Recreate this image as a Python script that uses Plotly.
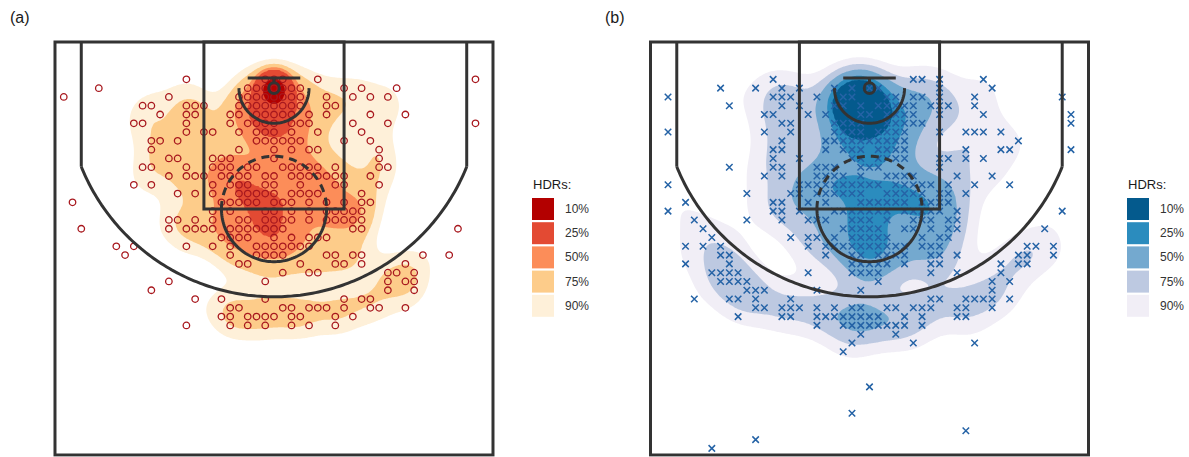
import numpy as np
import plotly.graph_objects as go

# ---------------- data (feet, origin at the hoop, y grows toward half court) ----------------
# Panel (a): made shots (open circles); one list of x-positions per row
a_rows = [-1, 0, 1, 2, 3, 4, 5, 6, 7, 8, 9, 10, 11, 12, 13, 14, 15, 16, 17, 18, 19, 20,
          21, 22, 23, 24, 25, 26, 27]
a_cols = [
    [-10, -1, 0, 1, 5, 23],
    [-20, -3, -2, -1, 0, 1, 2, 3, 8, 10, 14],
    [-24, -12, -4, -3, -2, -1, 0, 1, 2, 3, 6, 9, 11, 13],
    [-15, -14, -10, -9, -8, -4, -3, -2, -1, 0, 1, 2, 3, 6, 7],
    [-13, -10, -9, -5, -4, -2, -1, 0, 1, 2, 4, 6, 11, 15],
    [-16, -15, -10, -5, -3, -2, -1, 0, 2, 3, 4, 9, 13, 23],
    [-10, -8, -7, -4, -2, -1, 0, 2, 5, 10],
    [-14, -13, -11, -2, -1, 0, 1, 2, 3, 8, 11],
    [-14, -4, 0, 2, 4, 5, 12],
    [-12, -11, -7, -6, -5, 0, 12],
    [-15, -14, -10, -7, -6, -5, -3, -2, 1, 2, 3, 4, 5, 7, 12, 13],
    [-12, -10, -9, -8, -6, -5, -4, -3, -1, 0, 2, 3, 4, 5, 6, 7, 8, 11],
    [-16, -14, -7, -5, -4, -3, -1, 0, 3, 7, 8, 12],
    [-11, -9, -7, -4, -3, -2, -1, 0, 2, 3, 4, 5, 10],
    [-23, -6, -5, -4, -3, -2, 0, 1, 2, 4, 6, 8, 10, 11],
    [-7, -5, -1, 0, 2, 4, 6, 7, 8, 9, 10],
    [-12, -11, -9, -7, -4, -3, -1, 0, 1, 2, 4, 6, 7, 8, 9, 10],
    [-22, -12, -10, -9, -8, -7, -5, -4, -3, -2, -1, 0, 1, 9, 10, 21],
    [-6, -5, -4, -3, 0, 2, 4, 5, 6],
    [-18, -16, -10, -7, -5, -2, -1, 0, 1, 2, 3, 4],
    [-17, -5, -2, -1, 0, 1, 6, 7, 9, 10, 17, 20],
    [-4, -3, 3, 7, 8, 10, 15],
    [1, 4, 5, 13, 14, 16],
    [-12, -1, 13, 15, 16],
    [-14, 13, 16],
    [-9, -6, -1, 8, 10, 11],
    [-5, -4, 1, 2, 4, 5, 6, 8, 11, 12, 15],
    [-6, -5, -3, -2, -1, 0, 2, 3, 7, 9],
    [-10, -5, -3, -1, 2, 4, 7],
]
# repeated shots stacked right at the rim (hidden under one marker)
a_stack_x = [0, 0]
a_stack_y = [0, 1]
a_stack_n = [34, 18]
a_stack_spread = 0.9  # ft

# Panel (b): missed shots (crosses)
b_rows = [-1, 0, 1, 2, 3, 4, 5, 6, 7, 8, 9, 10, 11, 12, 13, 14, 15, 16, 17, 18, 19, 20,
          21, 22, 23, 24, 25, 26, 27, 28, 29, 30, 34, 37, 39, 40, 41]
b_cols = [
    [-11, 5, 6, 8, 13],
    [-17, -13, -10, -8, -4, -2, 0, 1, 8, 14],
    [-23, -11, -10, -9, -6, -3, -2, 2, 3, 5, 6, 8, 12, 22],
    [-16, -10, -8, -4, -3, -1, 1, 2, 3, 4, 5, 7, 8, 9, 12],
    [-12, -11, -7, -5, -1, 0, 2, 3, 4, 5, 8, 13, 23],
    [-10, -9, -4, -3, -2, -1, 2, 3, 4, 5, 6, 23],
    [-23, -12, -9, -4, -3, -2, -1, 1, 2, 3, 4, 8, 11, 12, 13, 15],
    [-10, -5, -4, -3, -2, -1, 0, 1, 2, 3, 4, 17],
    [-11, -10, -5, -3, -2, -1, 1, 2, 3, 4, 11, 15, 16, 23],
    [-11, -8, -2, -1, 1, 2, 3, 4, 8, 9, 11, 13],
    [-16, -11, -10, -6, -5, -4, -1, 0, 1, 8],
    [-12, -10, -6, -5, -4, -3, -1, 2, 3, 4, 5, 10, 14],
    [-23, -8, -7, -6, -5, -4, -3, -2, -1, 0, 1, 3, 4, 5, 6, 7, 9, 12, 16],
    [-14, -9, -8, -6, -5, -4, -3, -2, -1, 2, 3, 4, 5, 6, 8, 9, 11],
    [-21, -11, -10, -7, -5, -1, 0, 1, 2, 3, 4, 6, 7, 8, 9],
    [-23, -11, -10, -8, -4, -3, -2, -1, 0, 1, 2, 4, 5, 6, 7, 8, 10, 22],
    [-20, -14, -10, -7, -6, -5, -2, -1, 0, 2, 5, 6, 7, 9, 10],
    [-19, -3, -2, -1, 0, 1, 4, 5, 7, 9, 10, 20],
    [-18, -9, -7, -6, -4, -2, -1, 0, 1, 2, 6, 8, 9],
    [-21, -19, -17, -7, -5, -4, -3, -2, -1, 0, 1, 2, 3, 4, 6, 7, 8, 18, 19, 21],
    [-17, -16, -5, -2, -1, 1, 2, 3, 4, 7, 8, 10, 17, 18, 21],
    [-21, -16, -2, -1, 0, 1, 2, 4, 7, 8, 15, 17, 18],
    [-18, -17, -16, -15, -7, -2, -1, 0, 1, 7, 10, 15],
    [-17, -16, -15, -14, 1, 14, 16],
    [-14, -13, -12, -6, -1, 14],
    [-20, -16, -15, -13, -9, 7, 8, 11, 12, 13, 14, 16],
    [-13, -12, -10, -9, -8, -6, -4, -2, -1, 2, 3, 5, 6, 7, 10, 11, 14],
    [-15, -10, -9, -6, -5, -4, -3, -2, -1, 0, 1, 4, 6, 10, 11],
    [-6, -3, -2, -1, 0, 1, 2, 3, 4, 6],
    [-1, 3],
    [-2, 5, 12],
    [-3],
    [0],
    [-2],
    [11],
    [-13],
    [-18],
]
b_stack_x = [-2, -1, 0, -2, -1, -1, -2]
b_stack_y = [1, 1, 1, 2, 2, 0, 3]
b_stack_n = [6, 8, 3, 5, 6, 4, 3]
b_stack_spread = None  # same smoothing as the other shots

hdr_labels = ["10%", "25%", "50%", "75%", "90%"]
hdr_probs = [0.10, 0.25, 0.50, 0.75, 0.90]
a_colors = ["#B30000", "#E34A33", "#FC8D59", "#FDCC8A", "#FEF0D9"]
b_colors = ["#045A8D", "#2B8CBE", "#74A9CF", "#BDC9E1", "#F1EEF6"]

W, H = 1189, 457
LINE = "#333333"
BW_X, BW_Y = 0.9, 0.72


def flatten(rows, cols):
    xs, ys = [], []
    for r, cs in zip(rows, cols):
        for c in cs:
            xs.append(c)
            ys.append(r)
    return np.array(xs, float), np.array(ys, float)


def hdr_field(px, py, sx, sy, sn, spread, gx, gy):
    allx = np.concatenate([px, np.repeat(sx, sn)])
    ally = np.concatenate([py, np.repeat(sy, sn)])
    n = len(allx)

    def bw(v):
        q1, q3 = np.percentile(v, [25, 75])
        return 1.06 * min(v.std(ddof=1), (q3 - q1) / 1.34) * n ** (-0.2)

    hx, hy = bw(allx) * BW_X, bw(ally) * BW_Y

    def kde(x, y, w, sxx, syy):
        kx = np.exp(-0.5 * ((gx[:, None] - np.asarray(x, float)[None, :]) / sxx) ** 2)
        ky = np.exp(-0.5 * ((gy[:, None] - np.asarray(y, float)[None, :]) / syy) ** 2)
        return (ky * np.asarray(w, float)[None, :]) @ kx.T / (sxx * syy)

    dens = kde(px, py, np.ones(len(px)), hx, hy)
    if spread is None:
        dens = dens + kde(sx, sy, sn, hx, hy)
    else:
        dens = dens + kde(sx, sy, sn, spread, spread)
    ds = np.sort(dens.ravel())[::-1]
    cum = np.cumsum(ds) / ds.sum()
    thr = [ds[min(np.searchsorted(cum, p), len(ds) - 1)] for p in hdr_probs]
    xp = [0.0] + thr[::-1] + [dens.max() * 1.0001 + 1e-12]
    return np.interp(dens, xp, [0, 1, 2, 3, 4, 5, 6])


def colorscale(cols):
    tr = "rgba(255,255,255,0)"
    seq = [tr] + cols[::-1]  # below 90%, 90, 75, 50, 25, 10
    cs = []
    edges = [0, 0.1, 0.3, 0.5, 0.7, 0.9, 1.0]
    for i, c in enumerate(seq):
        cs.append([edges[i], c])
        cs.append([edges[i + 1], c])
    return cs


def arc(cx, cy, r, t0, t1, n=80):
    t = np.linspace(t0, t1, n)
    xs = cx + r * np.cos(t)
    ys = cy + r * np.sin(t)
    return "M " + " L ".join(f"{x:.3f},{y:.3f}" for x, y in zip(xs, ys))


def court_shapes(xr, yr):
    base, half = -5.25, 41.75
    ln = dict(color=LINE, width=3)
    s = []
    s.append(dict(type="rect", x0=-25, x1=25, y0=base, y1=half, line=ln))
    s.append(dict(type="rect", x0=-8, x1=8, y0=base, y1=13.75, line=ln))
    cy = np.sqrt(23.75 ** 2 - 22 ** 2)
    s.append(dict(type="line", x0=-22, x1=-22, y0=base, y1=cy, line=ln))
    s.append(dict(type="line", x0=22, x1=22, y0=base, y1=cy, line=ln))
    a0 = np.arctan2(cy, 22)
    s.append(dict(type="path", path=arc(0, 0, 23.75, a0, np.pi - a0, 160), line=ln))
    s.append(dict(type="path", path=arc(0, 13.75, 6, 0, np.pi), line=ln))
    s.append(dict(type="path", path=arc(0, 13.75, 6, np.pi, 2 * np.pi),
                  line=dict(color=LINE, width=3, dash="8px,6px")))
    s.append(dict(type="path", path=arc(0, 0, 4, 0, np.pi), line=ln))
    s.append(dict(type="line", x0=-3, x1=3, y0=-1.15, y1=-1.15, line=ln))
    s.append(dict(type="line", x0=0, x1=0, y0=-1.15, y1=-0.6, line=ln))
    s.append(dict(type="circle", x0=-0.6, x1=0.6, y0=-0.6, y1=0.6, line=ln))
    for d in s:
        d["xref"] = xr
        d["yref"] = yr
        d["layer"] = "above"
    return s


gx = np.linspace(-25, 25, 251)
gy = np.linspace(-5.25, 41.75, 236)

ax_, ay_ = flatten(a_rows, a_cols)
bx_, by_ = flatten(b_rows, b_cols)

fig = go.Figure()
for xs, ys, st, cols, xa, ya, sym, mcol in [
    (ax_, ay_, (a_stack_x, a_stack_y, a_stack_n, a_stack_spread), a_colors,
     "x", "y", "circle-open", "#A8181E"),
    (bx_, by_, (b_stack_x, b_stack_y, b_stack_n, b_stack_spread), b_colors,
     "x2", "y2", "x-thin-open", "#2563A6"),
]:
    z = hdr_field(xs, ys, *st, gx, gy)
    fig.add_trace(go.Contour(
        x=gx, y=gy, z=z, autocontour=False,
        contours=dict(start=1, end=5, size=1, coloring="fill", showlines=False),
        colorscale=colorscale(cols), showscale=False, line=dict(width=0),
        hoverinfo="skip", xaxis=xa, yaxis=ya))
    fig.add_trace(go.Scatter(
        x=xs, y=ys, mode="markers", xaxis=xa, yaxis=ya, hoverinfo="skip",
        marker=dict(symbol=sym, size=6.5,
                    color=mcol, line=dict(width=1.3 if sym == "circle-open" else 1.5, color=mcol)),
        showlegend=False))

scale_x = 438 / 50.0
scale_y = 413 / 47.0
pad_x, pad_top, pad_bot = 0.4, 0.4, 0.2


def dom_x(left_px):
    l = left_px - pad_x * scale_x
    r = left_px + 438 + pad_x * scale_x
    return [l / W, r / W]


top_px = 42 - pad_top * scale_y
bot_px = 455 + pad_bot * scale_y
dom_y = [max(0, (H - bot_px) / H), (H - top_px) / H]

axcommon = dict(visible=False, showgrid=False, zeroline=False, fixedrange=True)
fig.update_layout(
    width=W, height=H, margin=dict(l=0, r=0, t=0, b=0),
    paper_bgcolor="white", plot_bgcolor="white", showlegend=False,
    xaxis=dict(domain=dom_x(55), range=[-25 - pad_x, 25 + pad_x], **axcommon),
    yaxis=dict(domain=dom_y, range=[41.75 + pad_bot, -5.25 - pad_top], **axcommon),
    xaxis2=dict(domain=dom_x(650.5), range=[-25 - pad_x, 25 + pad_x], anchor="y2", **axcommon),
    yaxis2=dict(domain=dom_y, range=[41.75 + pad_bot, -5.25 - pad_top], anchor="x2", **axcommon),
)

shapes = court_shapes("x", "y") + court_shapes("x2", "y2")
ann = []
font = "Liberation Sans, Arial, Helvetica, sans-serif"
for lab, xpx in [("(a)", 8), ("(b)", 603)]:
    ann.append(dict(text=lab, x=xpx / W, y=1 - 18 / H, xref="paper", yref="paper",
                    xanchor="left", yanchor="middle", showarrow=False,
                    font=dict(family=font, size=16, color="#1a1a1a")))

for off, cols in [(0, a_colors), (595, b_colors)]:
    ann.append(dict(text="HDRs:", x=(531 + off) / W, y=1 - 184 / H, xref="paper", yref="paper",
                    xanchor="left", yanchor="middle", showarrow=False,
                    font=dict(family=font, size=13, color="#1a1a1a")))
    for i, (lab, c) in enumerate(zip(hdr_labels, cols)):
        y0 = 198 + 24.2 * i
        shapes.append(dict(type="rect", xref="paper", yref="paper",
                           x0=(532 + off) / W, x1=(554 + off) / W,
                           y0=1 - y0 / H, y1=1 - (y0 + 22) / H,
                           fillcolor=c, line=dict(width=0), layer="above"))
        ann.append(dict(text=lab, x=(563 + off) / W, y=1 - (y0 + 11) / H, xref="paper",
                        yref="paper", xanchor="left", yanchor="middle", showarrow=False,
                        font=dict(family=font, size=12, color="#333333")))

fig.update_layout(shapes=shapes, annotations=ann)
fig.write_html(
    "out.html",
    config={"displayModeBar": False, "staticPlot": True},
    post_script="document.body.style.margin='0';document.body.style.padding='0';"
                "document.body.style.overflow='hidden';",
)
